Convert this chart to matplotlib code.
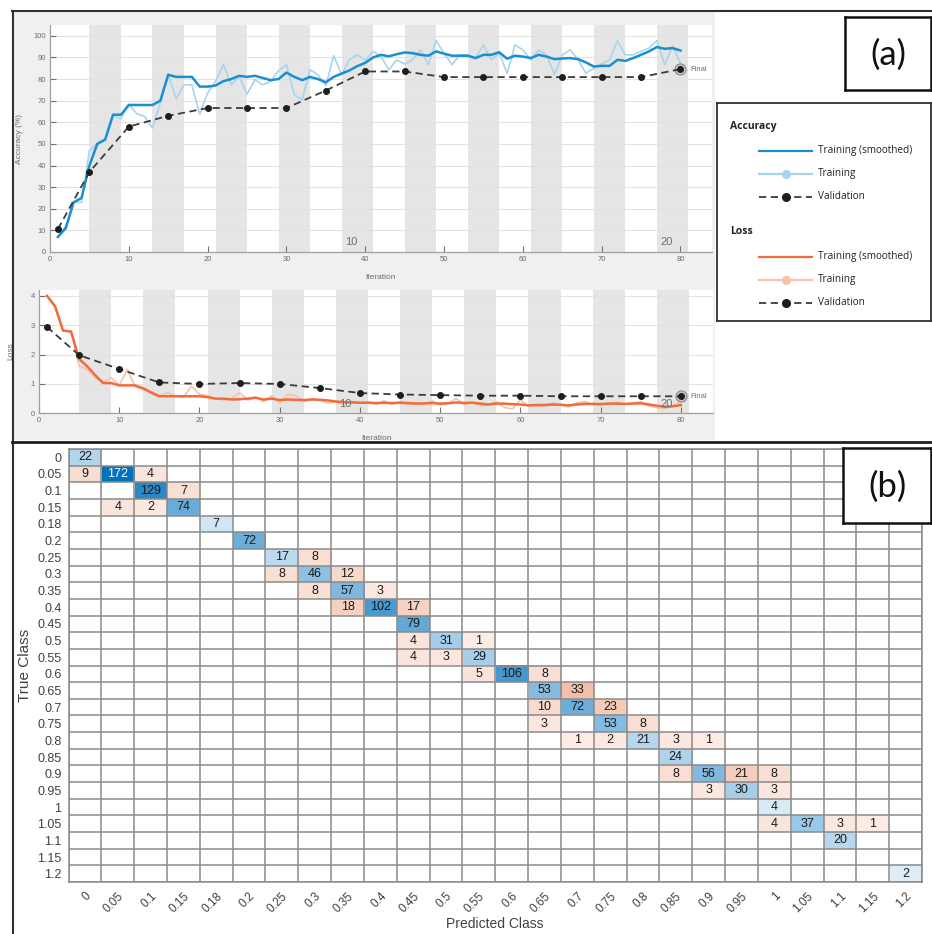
import numpy as np
import matplotlib
matplotlib.use("Agg")
import matplotlib.pyplot as plt
from matplotlib.colors import LinearSegmentedColormap, PowerNorm
from matplotlib.patches import Rectangle
from matplotlib.lines import Line2D

# ---------------- data ----------------
iterations = list(range(1, 81))
acc_smoothed = [7, 11, 23, 25, 40, 50, 52, 63.5, 63.5, 68,
                68, 68, 68, 70, 82, 81, 81, 81, 76.5, 76.5,
                77, 79, 80, 81.5, 81, 81.5, 80.5, 79.5, 80, 83,
                81, 79.5, 81, 80, 78.5, 81, 82.5, 84, 86, 87.5,
                90, 91.2, 90.5, 91.5, 92.3, 92, 91.2, 90.8, 92.8, 91.7,
                90.8, 90.8, 90.8, 89.7, 91.2, 91.2, 92.4, 89.4, 90.8, 90.4,
                89.7, 91.2, 90.4, 89.2, 89.5, 89.7, 89.2, 87.7, 85.8, 86.1,
                86.1, 88.9, 88.4, 89.7, 91.2, 92.8, 94.8, 94.0, 94.3, 93.2]
acc_training = [7, 12, 23, 23, 47, 50, 52, 63.5, 61.6, 68.4,
                64, 62.7, 57.3, 69, 82, 71, 77.3, 77.3, 63.8, 73.5,
                79, 86.6, 77.3, 81.2, 73, 79.7, 77.3, 79, 83.8, 86.6,
                72.7, 70.4, 84.3, 82, 76.9, 90.8, 82, 89, 91.2, 88.6,
                92.8, 90.4, 84.3, 88.9, 86.9, 88.9, 93.5, 86.6, 97.8, 92,
                86.6, 91.2, 91.2, 89.7, 95.8, 88.9, 92, 82.7, 95.8, 93.5,
                88.9, 93.5, 91.2, 82, 91.2, 93.5, 88.9, 82.7, 85, 87,
                88.9, 97.8, 91.2, 91.2, 92.8, 94.3, 97.8, 86.6, 95.4, 87.4]
val_iterations = [1, 5, 10, 15, 20, 25, 30, 35, 40, 45, 50, 55, 60, 65, 70, 75, 80]
acc_validation = [10.6, 37, 58, 63, 66.6, 66.6, 66.6, 74.7, 83.5, 83.5,
                  80.9, 80.9, 80.9, 80.9, 80.9, 80.9, 84.6]

loss_smoothed = [4.0, 3.65, 2.82, 2.78, 1.85, 1.6, 1.3, 1.03, 1.03, 0.95,
                 0.95, 0.95, 0.85, 0.7, 0.58, 0.58, 0.58, 0.58, 0.58, 0.58,
                 0.55, 0.5, 0.5, 0.47, 0.48, 0.5, 0.53, 0.47, 0.5, 0.45,
                 0.47, 0.46, 0.45, 0.47, 0.46, 0.44, 0.4, 0.38, 0.37, 0.36,
                 0.36, 0.35, 0.36, 0.35, 0.36, 0.35, 0.33, 0.34, 0.35, 0.33,
                 0.34, 0.37, 0.35, 0.36, 0.33, 0.3, 0.33, 0.33, 0.31, 0.3,
                 0.27, 0.28, 0.28, 0.3, 0.29, 0.27, 0.3, 0.32, 0.32, 0.31,
                 0.33, 0.33, 0.32, 0.33, 0.34, 0.3, 0.26, 0.22, 0.24, 0.28]
loss_training = [4.0, 3.6, 2.8, 2.8, 1.6, 1.5, 1.2, 1.05, 1.22, 0.95,
                 1.5, 0.9, 0.8, 0.75, 0.6, 0.7, 0.6, 0.55, 0.92, 0.65,
                 0.6, 0.5, 0.45, 0.5, 0.7, 0.45, 0.55, 0.4, 0.6, 0.35,
                 0.65, 0.6, 0.4, 0.5, 0.45, 0.35, 0.4, 0.3, 0.4, 0.35,
                 0.4, 0.3, 0.42, 0.3, 0.4, 0.3, 0.35, 0.3, 0.42, 0.28,
                 0.35, 0.5, 0.3, 0.38, 0.25, 0.3, 0.4, 0.2, 0.15, 0.45,
                 0.25, 0.3, 0.25, 0.35, 0.3, 0.22, 0.35, 0.4, 0.3, 0.35,
                 0.3, 0.38, 0.3, 0.35, 0.4, 0.25, 0.2, 0.15, 0.25, 0.4]
loss_validation = [2.94, 1.98, 1.51, 1.05, 1.0, 1.03, 1.0, 0.86, 0.69, 0.64,
                   0.62, 0.6, 0.6, 0.58, 0.58, 0.58, 0.58]

epoch_labels = ["10", "20"]
epoch_label_iters = [39, 79]

classes = ["0", "0.05", "0.1", "0.15", "0.18", "0.2", "0.25", "0.3", "0.35", "0.4",
           "0.45", "0.5", "0.55", "0.6", "0.65", "0.7", "0.75", "0.8", "0.85", "0.9",
           "0.95", "1", "1.05", "1.1", "1.15", "1.2"]
# (true class, predicted class, count)
cm_cells = [
    ("0", "0", 22),
    ("0.05", "0", 9), ("0.05", "0.05", 172), ("0.05", "0.1", 4),
    ("0.1", "0.1", 129), ("0.1", "0.15", 7),
    ("0.15", "0.05", 4), ("0.15", "0.1", 2), ("0.15", "0.15", 74),
    ("0.18", "0.18", 7),
    ("0.2", "0.2", 72),
    ("0.25", "0.25", 17), ("0.25", "0.3", 8),
    ("0.3", "0.25", 8), ("0.3", "0.3", 46), ("0.3", "0.35", 12),
    ("0.35", "0.3", 8), ("0.35", "0.35", 57), ("0.35", "0.4", 3),
    ("0.4", "0.35", 18), ("0.4", "0.4", 102), ("0.4", "0.45", 17),
    ("0.45", "0.45", 79),
    ("0.5", "0.45", 4), ("0.5", "0.5", 31), ("0.5", "0.55", 1),
    ("0.55", "0.45", 4), ("0.55", "0.5", 3), ("0.55", "0.55", 29),
    ("0.6", "0.55", 5), ("0.6", "0.6", 106), ("0.6", "0.65", 8),
    ("0.65", "0.65", 53), ("0.65", "0.7", 33),
    ("0.7", "0.65", 10), ("0.7", "0.7", 72), ("0.7", "0.75", 23),
    ("0.75", "0.65", 3), ("0.75", "0.75", 53), ("0.75", "0.8", 8),
    ("0.8", "0.7", 1), ("0.8", "0.75", 2), ("0.8", "0.8", 21), ("0.8", "0.85", 3), ("0.8", "0.9", 1),
    ("0.85", "0.85", 24),
    ("0.9", "0.85", 8), ("0.9", "0.9", 56), ("0.9", "0.95", 21), ("0.9", "1", 8),
    ("0.95", "0.9", 3), ("0.95", "0.95", 30), ("0.95", "1", 3),
    ("1", "1", 4),
    ("1.05", "1", 4), ("1.05", "1.05", 37), ("1.05", "1.1", 3), ("1.05", "1.15", 1),
    ("1.1", "1.1", 20),
    ("1.2", "1.2", 2),
]

# ---------------- figure ----------------
W, H = 932, 934
fig = plt.figure(figsize=(W / 100, H / 100), dpi=100)
fig.patch.set_facecolor("white")
plt.rcParams["font.family"] = ["Liberation Sans", "DejaVu Sans"]


def box(x0, y0, x1, y1):
    return [x0 / W, 1 - y1 / H, (x1 - x0) / W, (y1 - y0) / H]


def fline(x0, y0, x1, y1, **kw):
    fig.add_artist(Line2D([x0 / W, x1 / W], [1 - y0 / H, 1 - y1 / H],
                          transform=fig.transFigure, **kw))


# panel (a) background
fig.add_artist(Rectangle((13 / W, 1 - 440 / H), (715 - 13) / W, (440 - 12) / H,
                         transform=fig.transFigure, facecolor="#f0f0f0",
                         edgecolor="none", zorder=0))
fline(12, 11, 932, 11, color="#303030", lw=1.5)
fline(12.5, 11, 12.5, 934, color="#303030", lw=1.5)
fline(12, 441.5, 932, 441.5, color="#202020", lw=2.0)

GRAY_TXT = "#6e6e6e"
BAND = "#e5e5e5"
band_starts = list(range(5, 80, 8))


def style_train_axes(ax, ymax, yticks):
    ax.set_facecolor("white")
    ax.set_xlim(0, 84)
    ax.set_ylim(0, ymax)
    for b in band_starts:
        ax.axvspan(b, b + 4, color=BAND, lw=0, zorder=0.2)
    ax.set_xticks(range(0, 81, 10))
    ax.set_yticks(yticks)
    ax.yaxis.grid(True, color="#e2e2e2", lw=0.8, zorder=0.5)
    ax.set_axisbelow(True)
    for s in ["top", "right"]:
        ax.spines[s].set_visible(False)
    for s in ["left", "bottom"]:
        ax.spines[s].set_color("#a0a0a0")
        ax.spines[s].set_linewidth(0.9)
    ax.tick_params(direction="in", length=4, color="#707070", width=0.8,
                   labelsize=5.5, labelcolor=GRAY_TXT, pad=3)


# ---- accuracy axes ----
ax1 = fig.add_axes(box(50, 25, 712, 252))
style_train_axes(ax1, 105, range(0, 101, 10))
ax1.plot(iterations, acc_training, color="#a9d4ee", lw=1.2, zorder=2)
ax1.plot(iterations, acc_smoothed, color="#1a8fd0", lw=1.8, zorder=3)
ax1.plot(val_iterations[-1], acc_validation[-1], "o", ms=8, mfc="#c6c6c6",
         mec="#8a8a8a", mew=0.8, zorder=4)
ax1.plot(val_iterations, acc_validation, color="#3c3c3c", lw=1.3,
         dashes=(4, 2.5), marker="o", ms=4, mfc="#1e1e1e", mec="#1e1e1e", zorder=5)
ax1.text(val_iterations[-1] + 1.2, acc_validation[-1], "Final", fontsize=5.5,
         color=GRAY_TXT, va="center", ha="left")
for lab, it in zip(epoch_labels, epoch_label_iters):
    ax1.text(it, 4.6, lab, fontsize=8, color="#707070", ha="right", va="center")
ax1.set_xlabel("Iteration", fontsize=6, color=GRAY_TXT)
ax1.xaxis.set_label_coords(0.5, -0.095)
ax1.set_ylabel("Accuracy (%)", fontsize=6, color=GRAY_TXT)
ax1.yaxis.set_label_coords(-0.041, 0.5)

# ---- loss axes ----
ax2 = fig.add_axes(box(39, 290, 713, 413.3))
style_train_axes(ax2, 4.2, range(0, 5))
ax2.plot(iterations, loss_training, color="#f9c0aa", lw=1.2, zorder=2)
ax2.plot(iterations, loss_smoothed, color="#f26b3a", lw=1.8, zorder=3)
ax2.plot(val_iterations[-1], loss_validation[-1], "o", ms=8, mfc="#c6c6c6",
         mec="#8a8a8a", mew=0.8, zorder=4)
ax2.plot(val_iterations, loss_validation, color="#3c3c3c", lw=1.3,
         dashes=(4, 2.5), marker="o", ms=4, mfc="#1e1e1e", mec="#1e1e1e", zorder=5)
ax2.text(val_iterations[-1] + 1.2, loss_validation[-1], "Final", fontsize=5.5,
         color=GRAY_TXT, va="center", ha="left")
for lab, it in zip(epoch_labels, epoch_label_iters):
    ax2.text(it, 0.3, lab, fontsize=8, color="#707070", ha="right", va="center")
ax2.set_xlabel("Iteration", fontsize=6, color=GRAY_TXT)
ax2.xaxis.set_label_coords(0.5, -0.175)
ax2.set_ylabel("Loss", fontsize=6, color=GRAY_TXT)
ax2.yaxis.set_label_coords(-0.037, 0.5)

# ---- legend box ----
lax = fig.add_axes(box(717, 103, 931, 321))
lax.set_xlim(717, 931)
lax.set_ylim(321, 103)
lax.set_xticks([])
lax.set_yticks([])
for s in lax.spines.values():
    s.set_color("#303030")
    s.set_linewidth(1.3)
LFONT = ["Open Sans", "DejaVu Sans"]


def legend_group(y0, title, c_smooth, c_raw):
    lax.text(730, y0, title, fontsize=7.5, fontweight="bold", color="#222222",
             va="center", ha="left", family=LFONT)
    items = [("Training (smoothed)", c_smooth, "-", None),
             ("Training", c_raw, "-", c_raw),
             ("Validation", "#3c3c3c", "--", "#1e1e1e")]
    for k, (lab, c, ls, mc) in enumerate(items):
        yy = y0 + 25 + 23 * k
        if ls == "--":
            lax.plot([759, 812], [yy, yy], color=c, lw=1.3, dashes=(4, 2.5))
        else:
            lax.plot([759, 812], [yy, yy], color=c, lw=1.6)
        if mc is not None:
            lax.plot([785.5], [yy], "o", ms=5.5, mfc=mc, mec=mc)
        lax.text(818, yy, lab, fontsize=7.2, color="#222222", va="center",
                 ha="left", family=LFONT)


legend_group(126, "Accuracy", "#1a8fd0", "#a9d4ee")
legend_group(232, "Loss", "#f26b3a", "#f9c0aa")


# ---- panel label boxes ----
def panel_label(x0, y0, x1, y1, txt):
    a = fig.add_axes(box(x0, y0, x1, y1))
    a.set_xticks([])
    a.set_yticks([])
    a.set_facecolor("white")
    for s in a.spines.values():
        s.set_color("#111111")
        s.set_linewidth(1.8)
    a.text(0.5, 0.48, txt, fontsize=25, ha="center", va="center",
           transform=a.transAxes, family=["Lato", "DejaVu Sans"], color="#111111")


panel_label(845, 17, 931, 90, "(a)")

# ---- confusion matrix ----
n = len(classes)
cm = np.zeros((n, n))
for t, p, v in cm_cells:
    cm[classes.index(t), classes.index(p)] = v
diag_mask = np.eye(n, dtype=bool)
diag_vals = np.ma.masked_where(~diag_mask | (cm == 0), cm)
off_vals = np.ma.masked_where(diag_mask | (cm == 0), cm)
vmax = cm.max()
norm = PowerNorm(gamma=0.72, vmin=0, vmax=vmax)
diag_cmap = LinearSegmentedColormap.from_list("diag", ["#e8f3fb", "#0071bd"])
off_cmap = LinearSegmentedColormap.from_list("off", ["#fdf0ea", "#d95319"])

ax3 = fig.add_axes(box(68.5, 449, 922, 882))
ax3.imshow(diag_vals, cmap=diag_cmap, norm=norm, aspect="auto", interpolation="nearest")
ax3.imshow(off_vals, cmap=off_cmap, norm=norm, aspect="auto", interpolation="nearest")
for i in range(n):
    for j in range(n):
        v = cm[i, j]
        if v > 0:
            col = "white" if norm(v) > 0.9 else "#1a1a1a"
            ax3.text(j, i, f"{int(v)}", ha="center", va="center", fontsize=9,
                     color=col)
ax3.set_xticks(range(n))
ax3.set_yticks(range(n))
ax3.set_xticklabels(classes, rotation=45, ha="right", rotation_mode="anchor",
                    fontsize=8.5, color="#404040")
ax3.set_yticklabels(classes, fontsize=9, color="#404040")
ax3.set_xticks(np.arange(-0.5, n, 1), minor=True)
ax3.set_yticks(np.arange(-0.5, n, 1), minor=True)
ax3.grid(which="minor", color="#8a8a8a", lw=1.1)
ax3.tick_params(which="both", length=0)
ax3.tick_params(axis="x", pad=6)
ax3.tick_params(axis="y", pad=5)
for s in ax3.spines.values():
    s.set_color("#8a8a8a")
    s.set_linewidth(1.1)
ax3.set_xlabel("Predicted Class", fontsize=10, color="#404040", labelpad=1)
ax3.set_ylabel("True Class", fontsize=11, color="#404040", labelpad=4)

panel_label(843, 448, 931, 523, "(b)")

fig.savefig("out.png", dpi=100)
